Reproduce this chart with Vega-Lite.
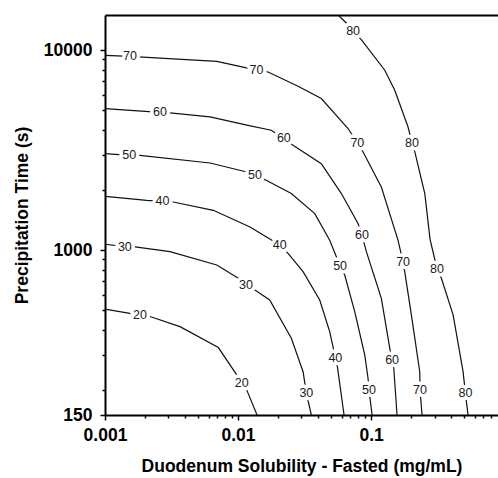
{
  "$schema": "https://vega.github.io/schema/vega-lite/v6.json",
  "width": 393,
  "height": 400,
  "autosize": {"type": "none"},
  "padding": {"left": 105, "top": 15, "right": 0, "bottom": 63},
  "background": "white",
  "config": {"view": {"stroke": null}, "font": "Liberation Sans"},
  "datasets": {
    "lines": [
      {"level": 70, "s": 0.001, "t": 9430}, {"level": 70, "s": 0.00154, "t": 9320}, {"level": 70, "s": 0.00692, "t": 8800}, {"level": 70, "s": 0.0123, "t": 8090}, {"level": 70, "s": 0.01374, "t": 7940}, {"level": 70, "s": 0.01682, "t": 7780}, {"level": 70, "s": 0.02825, "t": 6600}, {"level": 70, "s": 0.04227, "t": 5730}, {"level": 70, "s": 0.06714, "t": 4060}, {"level": 70, "s": 0.0789, "t": 3440}, {"level": 70, "s": 0.0871, "t": 3100}, {"level": 70, "s": 0.1195, "t": 2070}, {"level": 70, "s": 0.1596, "t": 1120}, {"level": 70, "s": 0.1741, "t": 870}, {"level": 70, "s": 0.1791, "t": 782}, {"level": 70, "s": 0.2009, "t": 475}, {"level": 70, "s": 0.2323, "t": 247}, {"level": 70, "s": 0.2335, "t": 200}, {"level": 70, "s": 0.2417, "t": 150},
      {"level": 80, "s": 0.0565, "t": 15000}, {"level": 80, "s": 0.0652, "t": 13680}, {"level": 80, "s": 0.0733, "t": 12430}, {"level": 80, "s": 0.0845, "t": 11300}, {"level": 80, "s": 0.1268, "t": 7940}, {"level": 80, "s": 0.1507, "t": 6300}, {"level": 80, "s": 0.1897, "t": 4130}, {"level": 80, "s": 0.2032, "t": 3440}, {"level": 80, "s": 0.2133, "t": 3100}, {"level": 80, "s": 0.2535, "t": 1920}, {"level": 80, "s": 0.2777, "t": 1134}, {"level": 80, "s": 0.3133, "t": 806}, {"level": 80, "s": 0.3379, "t": 724}, {"level": 80, "s": 0.4137, "t": 475}, {"level": 80, "s": 0.4918, "t": 247}, {"level": 80, "s": 0.5117, "t": 193}, {"level": 80, "s": 0.5358, "t": 150},
      {"level": 60, "s": 0.001, "t": 5110}, {"level": 60, "s": 0.00259, "t": 4890}, {"level": 60, "s": 0.00308, "t": 4860}, {"level": 60, "s": 0.00616, "t": 4640}, {"level": 60, "s": 0.01189, "t": 4210}, {"level": 60, "s": 0.01778, "t": 3980}, {"level": 60, "s": 0.0221, "t": 3620}, {"level": 60, "s": 0.02592, "t": 3350}, {"level": 60, "s": 0.04227, "t": 2710}, {"level": 60, "s": 0.05983, "t": 1920}, {"level": 60, "s": 0.0798, "t": 1360}, {"level": 60, "s": 0.0855, "t": 1190}, {"level": 60, "s": 0.0922, "t": 984}, {"level": 60, "s": 0.1195, "t": 575}, {"level": 60, "s": 0.1383, "t": 323}, {"level": 60, "s": 0.1439, "t": 283}, {"level": 60, "s": 0.1482, "t": 257}, {"level": 60, "s": 0.1568, "t": 150},
      {"level": 50, "s": 0.001, "t": 3040}, {"level": 50, "s": 0.00152, "t": 2980}, {"level": 50, "s": 0.00183, "t": 2980}, {"level": 50, "s": 0.00616, "t": 2730}, {"level": 50, "s": 0.01163, "t": 2460}, {"level": 50, "s": 0.01343, "t": 2370}, {"level": 50, "s": 0.01588, "t": 2255}, {"level": 50, "s": 0.02516, "t": 1920}, {"level": 50, "s": 0.03776, "t": 1524}, {"level": 50, "s": 0.04887, "t": 1121}, {"level": 50, "s": 0.0585, "t": 834}, {"level": 50, "s": 0.0634, "t": 752}, {"level": 50, "s": 0.07537, "t": 493}, {"level": 50, "s": 0.0897, "t": 299}, {"level": 50, "s": 0.0949, "t": 229}, {"level": 50, "s": 0.0966, "t": 199}, {"level": 50, "s": 0.1018, "t": 150},
      {"level": 40, "s": 0.001, "t": 1860}, {"level": 40, "s": 0.00206, "t": 1776}, {"level": 40, "s": 0.0027, "t": 1756}, {"level": 40, "s": 0.00326, "t": 1742}, {"level": 40, "s": 0.00652, "t": 1583}, {"level": 40, "s": 0.0123, "t": 1307}, {"level": 40, "s": 0.0206, "t": 1062}, {"level": 40, "s": 0.02377, "t": 965}, {"level": 40, "s": 0.03083, "t": 782}, {"level": 40, "s": 0.04113, "t": 564}, {"level": 40, "s": 0.04887, "t": 392}, {"level": 40, "s": 0.0539, "t": 290}, {"level": 40, "s": 0.05583, "t": 262}, {"level": 40, "s": 0.06266, "t": 150},
      {"level": 30, "s": 0.001, "t": 1071}, {"level": 30, "s": 0.00141, "t": 1043}, {"level": 30, "s": 0.00163, "t": 1043}, {"level": 30, "s": 0.00308, "t": 984}, {"level": 30, "s": 0.00692, "t": 844}, {"level": 30, "s": 0.01005, "t": 724}, {"level": 30, "s": 0.01148, "t": 670}, {"level": 30, "s": 0.01374, "t": 625}, {"level": 30, "s": 0.0173, "t": 564}, {"level": 30, "s": 0.02516, "t": 363}, {"level": 30, "s": 0.03083, "t": 247}, {"level": 30, "s": 0.03263, "t": 193}, {"level": 30, "s": 0.03557, "t": 150},
      {"level": 20, "s": 0.001, "t": 508}, {"level": 20, "s": 0.00183, "t": 474}, {"level": 20, "s": 0.00218, "t": 466}, {"level": 20, "s": 0.00366, "t": 415}, {"level": 20, "s": 0.00711, "t": 326}, {"level": 20, "s": 0.00978, "t": 238}, {"level": 20, "s": 0.01066, "t": 216}, {"level": 20, "s": 0.01163, "t": 200}, {"level": 20, "s": 0.01189, "t": 193}, {"level": 20, "s": 0.0139, "t": 150}
    ],
    "labels": [
      {"level": 70, "s": 0.00154, "t": 9320}, {"level": 70, "s": 0.01374, "t": 7940}, {"level": 70, "s": 0.0789, "t": 3440}, {"level": 70, "s": 0.1741, "t": 870}, {"level": 70, "s": 0.2335, "t": 200},
      {"level": 80, "s": 0.0733, "t": 12430}, {"level": 80, "s": 0.2032, "t": 3440}, {"level": 80, "s": 0.3133, "t": 806}, {"level": 80, "s": 0.5117, "t": 193},
      {"level": 60, "s": 0.00259, "t": 4890}, {"level": 60, "s": 0.0221, "t": 3620}, {"level": 60, "s": 0.0855, "t": 1190}, {"level": 60, "s": 0.1439, "t": 283},
      {"level": 50, "s": 0.00152, "t": 2980}, {"level": 50, "s": 0.01343, "t": 2370}, {"level": 50, "s": 0.0585, "t": 834}, {"level": 50, "s": 0.0966, "t": 199},
      {"level": 40, "s": 0.0027, "t": 1756}, {"level": 40, "s": 0.0206, "t": 1062}, {"level": 40, "s": 0.0539, "t": 290},
      {"level": 30, "s": 0.00141, "t": 1043}, {"level": 30, "s": 0.01148, "t": 670}, {"level": 30, "s": 0.03263, "t": 193},
      {"level": 20, "s": 0.00183, "t": 474}, {"level": 20, "s": 0.01066, "t": 216}
    ]
  },
  "layer": [
    {
      "data": {"name": "lines"},
      "mark": {"type": "line", "color": "#111111", "strokeWidth": 1.2, "clip": true},
      "encoding": {
        "x": {
          "field": "s", "type": "quantitative",
          "scale": {"type": "log", "domain": [0.001, 0.9], "nice": false},
          "axis": {
            "orient": "bottom",
            "values": [0.001, 0.002, 0.003, 0.004, 0.005, 0.006, 0.007, 0.008, 0.009, 0.01, 0.02, 0.03, 0.04, 0.05, 0.06, 0.07, 0.08, 0.09, 0.1, 0.2, 0.3, 0.4, 0.5, 0.6, 0.7, 0.8],
            "labelExpr": "(datum.value == 0.001 || datum.value == 0.01 || datum.value == 0.1) ? datum.value + '' : ''",
            "labelFlush": false, "labelOverlap": false,
            "labelFont": "Liberation Sans", "labelFontWeight": "bold", "labelFontSize": 17.5, "labelColor": "black", "labelPadding": 6,
            "tickColor": "black", "tickWidth": 1.5,
            "tickSize": {"condition": {"test": "datum.value == 0.001 || datum.value == 0.01 || datum.value == 0.1", "value": 5}, "value": 3},
            "domainColor": "black", "domainWidth": 2, "grid": false,
            "title": "Duodenum Solubility - Fasted (mg/mL)",
            "titleFont": "Liberation Sans", "titleFontSize": 17.5, "titleFontWeight": "bold", "titleColor": "black", "titlePadding": 14
          }
        },
        "y": {
          "field": "t", "type": "quantitative",
          "scale": {"type": "log", "domain": [150, 15000], "nice": false},
          "axis": {
            "orient": "left",
            "values": [150, 200, 300, 400, 500, 600, 700, 800, 900, 1000, 2000, 3000, 4000, 5000, 6000, 7000, 8000, 9000, 10000],
            "labelExpr": "(datum.value == 150 || datum.value == 1000 || datum.value == 10000) ? datum.value + '' : ''",
            "labelOverlap": false,
            "labelFont": "Liberation Sans", "labelFontWeight": "bold", "labelFontSize": 17.5, "labelColor": "black", "labelPadding": 8,
            "tickColor": "black", "tickWidth": 1.5,
            "tickSize": {"condition": {"test": "datum.value == 150 || datum.value == 1000 || datum.value == 10000", "value": 5}, "value": 3},
            "domainColor": "black", "domainWidth": 2, "grid": false,
            "title": "Precipitation Time (s)",
            "titleFont": "Liberation Sans", "titleFontSize": 17.5, "titleFontWeight": "bold", "titleColor": "black", "titlePadding": 12
          }
        },
        "detail": {"field": "level", "type": "nominal"}
      }
    },
    {
      "data": {"name": "labels"},
      "mark": {"type": "text", "font": "Liberation Sans", "fontSize": 12.5, "fill": "white", "stroke": "white", "strokeWidth": 7, "strokeJoin": "round"},
      "encoding": {
        "x": {"field": "s", "type": "quantitative", "axis": {"orient": "top", "labels": false, "ticks": false, "title": null, "domainColor": "black", "domainWidth": 2, "grid": false}},
        "y": {"field": "t", "type": "quantitative", "axis": null},
        "text": {"field": "level", "type": "quantitative"}
      }
    },
    {
      "data": {"name": "labels"},
      "mark": {"type": "text", "font": "Liberation Sans", "fontSize": 12.5, "fill": "#1a1a1a"},
      "encoding": {
        "x": {"field": "s", "type": "quantitative", "axis": null},
        "y": {"field": "t", "type": "quantitative", "axis": null},
        "text": {"field": "level", "type": "quantitative"}
      }
    }
  ],
  "resolve": {"axis": {"x": "independent", "y": "independent"}}
}
